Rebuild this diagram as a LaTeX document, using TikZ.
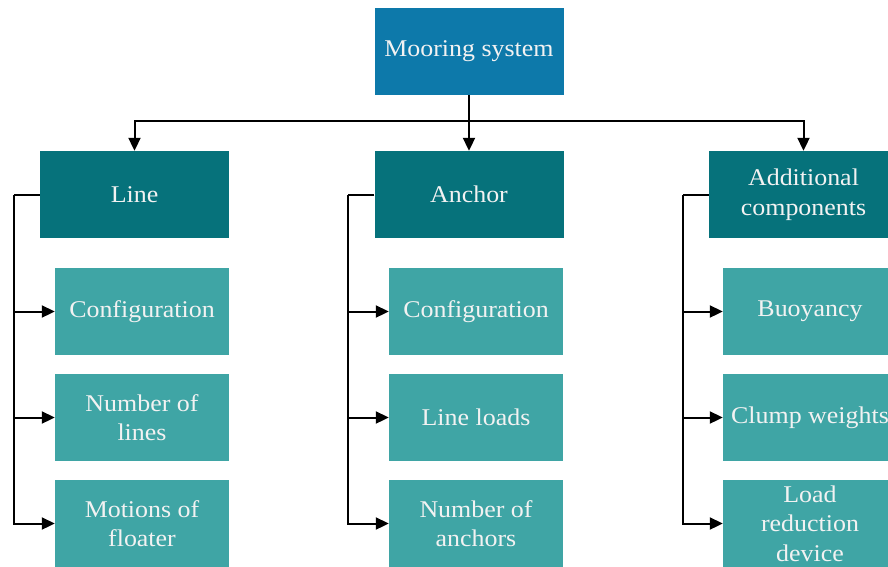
\documentclass[tikz,border=0pt]{standalone}
\usepackage{fontspec}
\setmainfont[FakeStretch=1.08]{Liberation Serif}
\usetikzlibrary{arrows.meta}
\definecolor{topblue}{HTML}{0D79AA}
\definecolor{darkteal}{HTML}{06727B}
\definecolor{lightteal}{HTML}{3FA5A5}
\definecolor{boxtext}{HTML}{F2F2F2}
\tikzset{
  box/.style={draw=none, inner sep=0pt, text=boxtext, align=center,
    font=\fontsize{24}{29.5}\selectfont},
  topbox/.style={box, fill=topblue, minimum width=189pt, minimum height=87pt},
  groupbox/.style={box, fill=darkteal, minimum width=189pt, minimum height=87pt},
  itembox/.style={box, fill=lightteal, minimum width=174pt, minimum height=87pt},
  link/.style={line width=2pt, black},
  arrowlink/.style={link, -{Triangle[length=13pt,width=12pt]}},
}
\begin{document}
\begin{tikzpicture}[x=1pt,y=-1pt]
\useasboundingbox (0,0) rectangle (888,566);
\clip (0,0) rectangle (888,566);

% root
\node[topbox] (root) at (469,51.5) {Mooring system};

% groups
\node[groupbox] (line) at (134.5,194.5) {Line};
\node[groupbox] (anchor) at (469,194.5) {Anchor};
\node[groupbox] (addl) at (803.5,194.5) {Additional\\components};

% items under Line
\node[itembox] (l1) at (142,311.5) {Configuration};
\node[itembox] (l2) at (142,417.5) {Number of\\lines};
\node[itembox] (l3) at (142,523.5) {Motions of\\floater};

% items under Anchor
\node[itembox] (a1) at (476,311.5) {Configuration};
\node[itembox] (a2) at (476,417.5) {Line loads};
\node[itembox] (a3) at (476,523.5) {Number of\\anchors};

% items under Additional components
\node[itembox] (c1) at (810,311.5) {Buoyancy};
\node[itembox] (c2) at (810,417.5) {Clump weights};
\node[itembox] (c3) at (810,523.5) {Load\\reduction\\device};

% root to groups
\coordinate (bus) at (469,121);
\draw[link] (root.south) -- (bus);
\draw[arrowlink] (bus) -| (line.north);
\draw[arrowlink] (bus) -- (anchor.north);
\draw[arrowlink] (bus) -| (addl.north);

% group rails
\coordinate (lrail) at (14,194.5);
\coordinate (arail) at (348,194.5);
\coordinate (crail) at (683,194.5);

\foreach \g/\r/\a/\b/\c in {line/lrail/l1/l2/l3, anchor/arail/a1/a2/a3, addl/crail/c1/c2/c3}{
  \draw[link] (\g.west) -- (\r);
  \draw[arrowlink] (\r) |- (\a.west);
  \draw[arrowlink] (\r) |- (\b.west);
  \draw[arrowlink] (\r) |- (\c.west);
}
\end{tikzpicture}
\end{document}
